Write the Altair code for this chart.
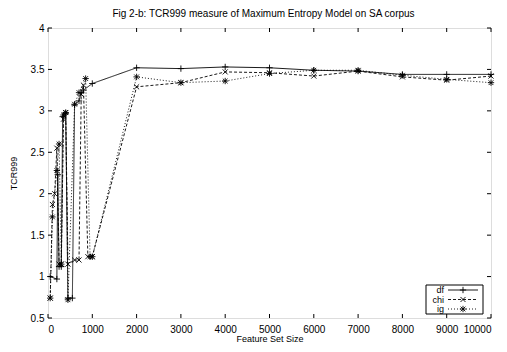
import altair as alt
import pandas as pd

# ---- data ----
df_x = [50, 200, 220, 250, 300, 330, 400, 450, 550, 600, 700, 750, 800, 1000,
        2000, 3000, 4000, 5000, 6000, 7000, 8000, 9000, 10000]
df_y = [1.00, 0.97, 2.23, 1.12, 1.12, 2.93, 2.97, 0.74, 0.74, 3.07, 3.12, 3.22, 3.25, 3.33,
        3.52, 3.51, 3.53, 3.52, 3.49, 3.48, 3.44, 3.44, 3.44]

chi_x = [50, 100, 150, 200, 250, 300, 350, 400, 450, 600, 700, 750, 800, 900, 1000,
         2000, 3000, 4000, 5000, 6000, 7000, 8000, 9000, 10000]
chi_y = [0.74, 1.87, 2.00, 2.55, 1.15, 1.15, 2.90, 2.98, 1.15, 1.20, 1.20, 3.20, 3.31, 1.24, 1.24,
         3.29, 3.34, 3.47, 3.46, 3.42, 3.48, 3.41, 3.37, 3.42]

ig_x = [50, 100, 200, 250, 300, 350, 400, 450, 600, 700, 850, 950, 1000,
        2000, 3000, 4000, 5000, 6000, 7000, 8000, 9000, 10000]
ig_y = [0.74, 1.72, 2.28, 2.60, 1.15, 2.95, 2.98, 0.72, 3.08, 3.22, 3.39, 1.24, 1.24,
        3.41, 3.34, 3.36, 3.45, 3.49, 3.49, 3.43, 3.38, 3.34]

series_names = ["df", "chi", "ig"]
x_ticks = [0, 1000, 2000, 3000, 4000, 5000, 6000, 7000, 8000, 9000, 10000]
y_ticks = [0.5, 1, 1.5, 2, 2.5, 3, 3.5, 4]

title_text = "Fig 2-b: TCR999 measure of Maximum Entropy Model on SA corpus"

rows = []
for name, xs, ys in [("df", df_x, df_y), ("chi", chi_x, chi_y), ("ig", ig_x, ig_y)]:
    for i, (a, b) in enumerate(zip(xs, ys)):
        rows.append({"series": name, "size": a, "tcr": b, "idx": i})
data = pd.DataFrame(rows)

W, H = 443, 290
FONT = "Liberation Sans"

PLUS = "M-1,0L1,0M0,-1L0,1"
CROSS = "M-0.8,-0.8L0.8,0.8M-0.8,0.8L0.8,-0.8"
STAR = "M-1,0L1,0M0,-1L0,1M-0.75,-0.75L0.75,0.75M-0.75,0.75L0.75,-0.75"

xscale = alt.Scale(domain=[0, 10000], nice=False, zero=False)
yscale = alt.Scale(domain=[0.5, 4], nice=False, zero=False)

xenc = alt.X("size:Q", scale=xscale,
             axis=alt.Axis(values=x_ticks, format="d", title="Feature Set Size",
                           tickSize=0, domain=False, grid=False, labelPadding=6,
                           titlePadding=0, titleFontWeight="normal", titleFont=FONT,
                           titleFontSize=9, titleColor="#000"))
yenc = alt.Y("tcr:Q", scale=yscale,
             axis=alt.Axis(values=y_ticks, labelExpr="datum.value", title="TCR999",
                           tickSize=0, domain=False, grid=False, labelPadding=4,
                           titlePadding=12, titleFontWeight="normal", titleFont=FONT,
                           titleFontSize=9, titleColor="#000"))

dash_scale = alt.Scale(domain=series_names, range=[[1, 0], [3, 2], [1, 2]])
shape_scale = alt.Scale(domain=series_names, range=[PLUS, CROSS, STAR])

lines = alt.Chart(data).mark_line(color="#000", strokeWidth=0.9).encode(
    x=xenc, y=yenc,
    detail="series:N",
    order="idx:Q",
    strokeDash=alt.StrokeDash("series:N", scale=dash_scale, legend=None),
)
points = alt.Chart(data).mark_point(color="#000", filled=False, strokeWidth=0.9, size=40, opacity=1).encode(
    x=alt.X("size:Q", scale=xscale), y=alt.Y("tcr:Q", scale=yscale),
    shape=alt.Shape("series:N", scale=shape_scale, legend=None),
)

# inward ticks (gnuplot style)
xt = pd.DataFrame({"t": x_ticks})
yt = pd.DataFrame({"t": y_ticks})
tk = dict(color="#000", strokeWidth=1)
xt_bot = alt.Chart(xt).mark_rule(**tk).encode(x=alt.X("t:Q", scale=xscale), y=alt.value(H), y2=alt.value(H - 4))
xt_top = alt.Chart(xt).mark_rule(**tk).encode(x=alt.X("t:Q", scale=xscale), y=alt.value(0), y2=alt.value(4))
yt_l = alt.Chart(yt).mark_rule(**tk).encode(y=alt.Y("t:Q", scale=yscale), x=alt.value(0), x2=alt.value(4))
yt_r = alt.Chart(yt).mark_rule(**tk).encode(y=alt.Y("t:Q", scale=yscale), x=alt.value(W), x2=alt.value(W - 4))

# legend box
one = pd.DataFrame({"a": [0]})
box = alt.Chart(one).mark_rect(fill="white", stroke="#000", strokeWidth=1).encode(
    x=alt.value(378), x2=alt.value(435), y=alt.value(257), y2=alt.value(286))
leg_layers = [box]
leg_y = [262, 271.5, 281]
for name, yy, dash, shp in zip(series_names, leg_y, [[1, 0], [3, 2], [1, 2]], [PLUS, CROSS, STAR]):
    leg_layers.append(alt.Chart(one).mark_text(text=name, align="right", baseline="middle",
                                               font=FONT, fontSize=9, color="#000").encode(
        x=alt.value(396), y=alt.value(yy)))
    leg_layers.append(alt.Chart(one).mark_rule(color="#000", strokeWidth=0.9, strokeDash=dash).encode(
        x=alt.value(400), x2=alt.value(430), y=alt.value(yy)))
    leg_layers.append(alt.Chart(one).mark_point(color="#000", filled=False, strokeWidth=0.9, size=40,
                                                shape=shp, opacity=1).encode(
        x=alt.value(415), y=alt.value(yy)))

chart = alt.layer(lines, points, xt_bot, xt_top, yt_l, yt_r, *leg_layers).properties(
    width=W, height=H,
    title=alt.TitleParams(title_text, font=FONT, fontSize=10, fontWeight="normal",
                          color="#000", anchor="middle", offset=4, dx=-6),
    autosize=alt.AutoSizeParams(type="none"),
    padding={"left": 40, "top": 20, "right": 8, "bottom": 26},
).configure_view(stroke="#000", strokeWidth=1.2).configure_axis(
    labelFont=FONT, labelFontSize=9, labelColor="#000",
).configure(background="white")

chart.save("out.html", embed_options={"renderer": "svg", "actions": False})
